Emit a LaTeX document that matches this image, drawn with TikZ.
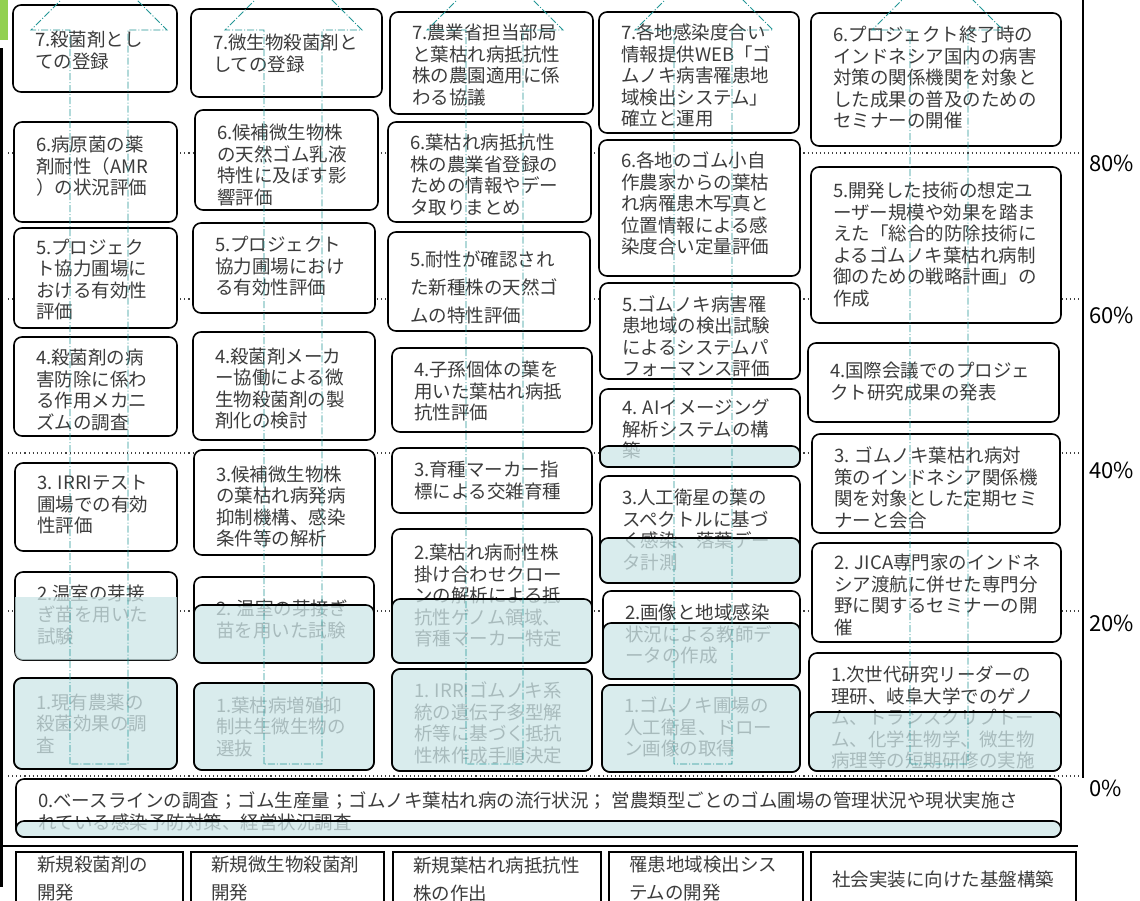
\documentclass[tikz,border=0pt]{standalone}
\usepackage{fontspec}
\setmainfont{Noto Sans CJK JP}
\definecolor{txtc}{RGB}{60,60,60}
\definecolor{ovlc}{RGB}{205,230,232}
\definecolor{arrc}{RGB}{35,150,150}
\definecolor{grn}{RGB}{146,208,80}
\tikzset{
 boxst/.style={draw=black, line width=1.6pt, fill=white, rounded corners=8pt, inner sep=0pt, outer sep=0pt, anchor=north west},
 txtst/.style={inner sep=0pt, outer sep=0pt, anchor=north west, align=left, text=txtc, font=\fontsize{18.5}{21.5}\selectfont},
 bottxt/.style={txtst, font=\fontsize{18.5}{27.5}\selectfont},
 ovlst/.style={draw=black, line width=1.6pt, fill=ovlc, fill opacity=0.75, rounded corners=8pt, inner sep=0pt, outer sep=0pt, anchor=north west},
 arrst/.style={draw=arrc, line width=0.9pt, dash pattern=on 7pt off 2pt on 1pt off 2pt},
 dotst/.style={draw=black!75, line width=1.1pt, dash pattern=on 1.1pt off 3pt},
 pct/.style={inner sep=0pt, outer sep=0pt, anchor=west, text=black, font=\fontsize{22}{26}\selectfont},
 botst/.style={draw=black, line width=2pt, fill=white, inner sep=0pt, outer sep=0pt, anchor=north west},
 axis/.style={draw=black, line width=2.5pt},
}
\newcommand\jbox[7]{%
  \node[boxst, minimum width={#4-#2}, minimum height={#5-#3}] (#1) at (#2,#3) {};
  \node[txtst] (#1t) at ({#2+22},{#6-9}) {\rule{0pt}{16pt}#7};
}
\newcommand\jovl[5]{%
  \node[ovlst, minimum width={#4-#2}, minimum height={#5-#3}] (#1) at (#2,#3) {};
}
\newcommand\jbot[6]{%
  \node[botst, minimum width={#3-#2}, minimum height=70] (#1) at (#2,852) {};
  \node[bottxt] (#1t) at (#4,{#5-9}) {\rule{0pt}{16pt}#6};
}
\newcommand\jarrow[4]{%
  \draw[arrst] (#1,764) -- (#1,30) -- (#3,30) -- ({(#3+#4)/2},{30-(#4-#3)/2}) -- (#4,30) -- (#2,30) -- (#2,764) -- cycle;
}
\begin{document}
\begin{tikzpicture}[x=1pt,y=-1pt]
\useasboundingbox (0,0) rectangle (1140,900);
\clip (0,0) rectangle (1140,900);
% dotted level lines
\foreach \yy in {153,299,453,611,776} \draw[dotst] (8,\yy) -- (1082,\yy);
% axes
\fill[grn] (0,0) rectangle (8,40);
\draw[axis] (1.5,48) -- (1.5,887);
\draw[axis] (1083,0) -- (1083,778);
\draw[axis] (0,846) -- (1078,846);
% column 1
\jbox{a7}{13}{5}{177}{92}{39.5}{7.殺菌剤とし\\ての登録}
\jbox{a6}{14}{122}{177}{222}{144.5}{6.病原菌の薬\\剤耐性（AMR\\）の状況評価}
\jbox{a5}{14}{228}{177}{328}{247}{5.プロジェク\\ト協力圃場に\\おける有効性\\評価}
\jbox{a4}{14}{337}{177}{436}{357.5}{4.殺菌剤の病\\害防除に係わ\\る作用メカニ\\ズムの調査}
\jbox{a3}{15}{463}{177}{551}{482.5}{3. IRRIテスト\\圃場での有効\\性評価}
\jbox{a2}{15}{572}{177}{660}{593}{2.温室の芽接\\ぎ苗を用いた\\試験}
\jbox{a1}{14}{678}{177}{769}{702}{1.現有農薬の\\殺菌効果の調\\査}
% column 2
\jbox{b7}{191}{9}{382}{97}{42.5}{7.微生物殺菌剤と\\しての登録}
\jbox{b6}{195}{110}{378}{210}{132.5}{6.候補微生物株\\の天然ゴム乳液\\特性に及ぼす影\\響評価}
\jbox{b5}{193}{223}{375}{313}{244.5}{5.プロジェクト\\協力圃場におけ\\る有効性評価}
\jbox{b4}{193}{332}{375}{440}{356}{4.殺菌剤メーカ\\ー協働による微\\生物殺菌剤の製\\剤化の検討}
\jbox{b3}{194}{450}{375}{555}{474}{3.候補微生物株\\の葉枯れ病発病\\抑制機構、感染\\条件等の解析}
\jbox{b2}{194}{577}{374}{663}{608.5}{2. 温室の芽接ぎ\\苗を用いた試験}
\jbox{b1}{194}{683}{374}{770}{705}{1.葉枯病増殖抑\\制共生微生物の\\選抜}
% column 3
\jbox{c7}{390}{12}{593}{114}{32.5}{7.農業省担当部局\\と葉枯れ病抵抗性\\株の農園適用に係\\わる協議}
\jbox{c6}{388}{122}{591}{222}{142.5}{6.葉枯れ病抵抗性\\株の農業省登録の\\ための情報やデー\\タ取りまとめ}
\jbox{c5}{388}{232}{590}{331}{259.5}{5.耐性が確認され\\[6.5pt]た新種株の天然ゴ\\[6.5pt]ムの特性評価}
\jbox{c4}{392}{348}{592}{432}{369.5}{4.子孫個体の葉を\\用いた葉枯れ病抵\\抗性評価}
\jbox{c3}{392}{448}{592}{513}{469.5}{3.育種マーカー指\\標による交雑育種}
\jbox{c2}{392}{529}{592}{663}{552.5}{2.葉枯れ病耐性株\\掛け合わせクロー\\ンの解析による抵\\抗性ゲノム領域、\\育種マーカー特定}
\jbox{c1}{392}{669}{592}{771}{690.5}{1. IRRIゴムノキ系\\統の遺伝子多型解\\析等に基づく抵抗\\性株作成手順決定}
% column 4
\jbox{d7}{599}{12}{799}{133}{32.5}{7.各地感染度合い\\情報提供WEB「ゴ\\ムノキ病害罹患地\\域検出システム」\\確立と運用}
\jbox{d6}{599}{140}{800}{276}{160.5}{6.各地のゴム小自\\作農家からの葉枯\\れ病罹患木写真と\\位置情報による感\\染度合い定量評価}
\jbox{d5}{600}{283}{800}{379}{304}{5.ゴムノキ病害罹\\患地域の検出試験\\によるシステムパ\\フォーマンス評価}
\jbox{d4}{600}{389}{800}{467}{407.5}{4. AIイメージング\\解析システムの構\\築}
\jbox{d3}{600}{476}{800}{583}{497.5}{3.人工衛星の葉の\\スペクトルに基づ\\く感染、落葉デー\\タ計測}
\jbox{d2}{603}{591}{800}{679}{612.5}{2.画像と地域感染\\状況による教師デ\\ータの作成}
\jbox{d1}{602}{685}{800}{772}{705.5}{1.ゴムノキ圃場の\\人工衛星、ドロー\\ン画像の取得}
% column 5
\jbox{e6}{811}{13}{1061}{146}{34.5}{6.プロジェクト終了時の\\インドネシア国内の病害\\対策の関係機関を対象と\\した成果の普及のための\\セミナーの開催}
\jbox{e5}{811}{167}{1061}{323}{190.5}{5.開発した技術の想定ユ\\ーザー規模や効果を踏ま\\えた「総合的防除技術に\\よるゴムノキ葉枯れ病制\\御のための戦略計画」の\\作成}
\jbox{e4}{808}{343}{1059}{422}{370.5}{4.国際会議でのプロジェ\\クト研究成果の発表}
\jbox{e3}{812}{434}{1060}{533}{455.5}{3. ゴムノキ葉枯れ病対\\策のインドネシア関係機\\関を対象とした定期セミ\\ナーと会合}
\jbox{e2}{812}{543}{1061}{642}{562.5}{2. JICA専門家のインドネ\\シア渡航に併せた専門分\\野に関するセミナーの開\\催}
\jbox{e1}{809}{653}{1061}{771}{674.5}{1.次世代研究リーダーの\\理研、岐阜大学でのゲノ\\ム、トランスクリプトー\\ム、化学生物学、微生物\\病理等の短期研修の実施}
% baseline box
\jbox{z0}{16}{779}{1061}{837}{800.5}{0.ベースラインの調査；ゴム生産量；ゴムノキ葉枯れ病の流行状況； 営農類型ごとのゴム圃場の管理状況や現状実施さ\\れている感染予防対策、経営状況調査}
% progress overlays
\begin{scope}
\clip[rounded corners=8pt] (15,572) rectangle (177,660);
\fill[ovlc, fill opacity=0.75] (0,597) rectangle (200,670);
\end{scope}
\jovl{a1o}{14}{678}{177}{769}
\jovl{b1o}{194}{683}{374}{770}
\jovl{c1o}{392}{669}{592}{771}
\jovl{d1o}{602}{685}{800}{772}
\jovl{b2o}{194}{605}{374}{663}
\jovl{c2o}{392}{599}{592}{663}
\jovl{d4o}{600}{446}{800}{467}
\jovl{d3o}{600}{538}{800}{583}
\jovl{d2o}{603}{623}{800}{679}
\jovl{e1o}{809}{712}{1061}{771}
\jovl{z0o}{16}{821}{1061}{837}
% goal arrows
\jarrow{70}{128}{31}{167}
\jarrow{264}{322}{225}{362}
\jarrow{466}{523}{427}{563}
\jarrow{674}{732}{635}{773}
\jarrow{910}{968}{872}{1003}
% bottom category boxes
\jbot{f1}{16}{183}{37}{864.5}{新規殺菌剤の\\開発}
\jbot{f2}{191}{384}{211}{864.5}{新規微生物殺菌剤\\開発}
\jbot{f3}{393}{601}{413}{865.5}{新規葉枯れ病抵抗性\\株の作出}
\jbot{f4}{609}{803}{629}{864.5}{罹患地域検出シス\\テムの開発}
\jbot{f5}{811}{1076}{832}{879.5}{社会実装に向けた基盤構築}
% percentage labels
\node[pct] (p80) at (1089,163) {80\%};
\node[pct] (p60) at (1089,315.5) {60\%};
\node[pct] (p40) at (1089,470.5) {40\%};
\node[pct] (p20) at (1089,623.5) {20\%};
\node[pct] (p0) at (1089,788.5) {0\%};
\end{tikzpicture}
\end{document}
